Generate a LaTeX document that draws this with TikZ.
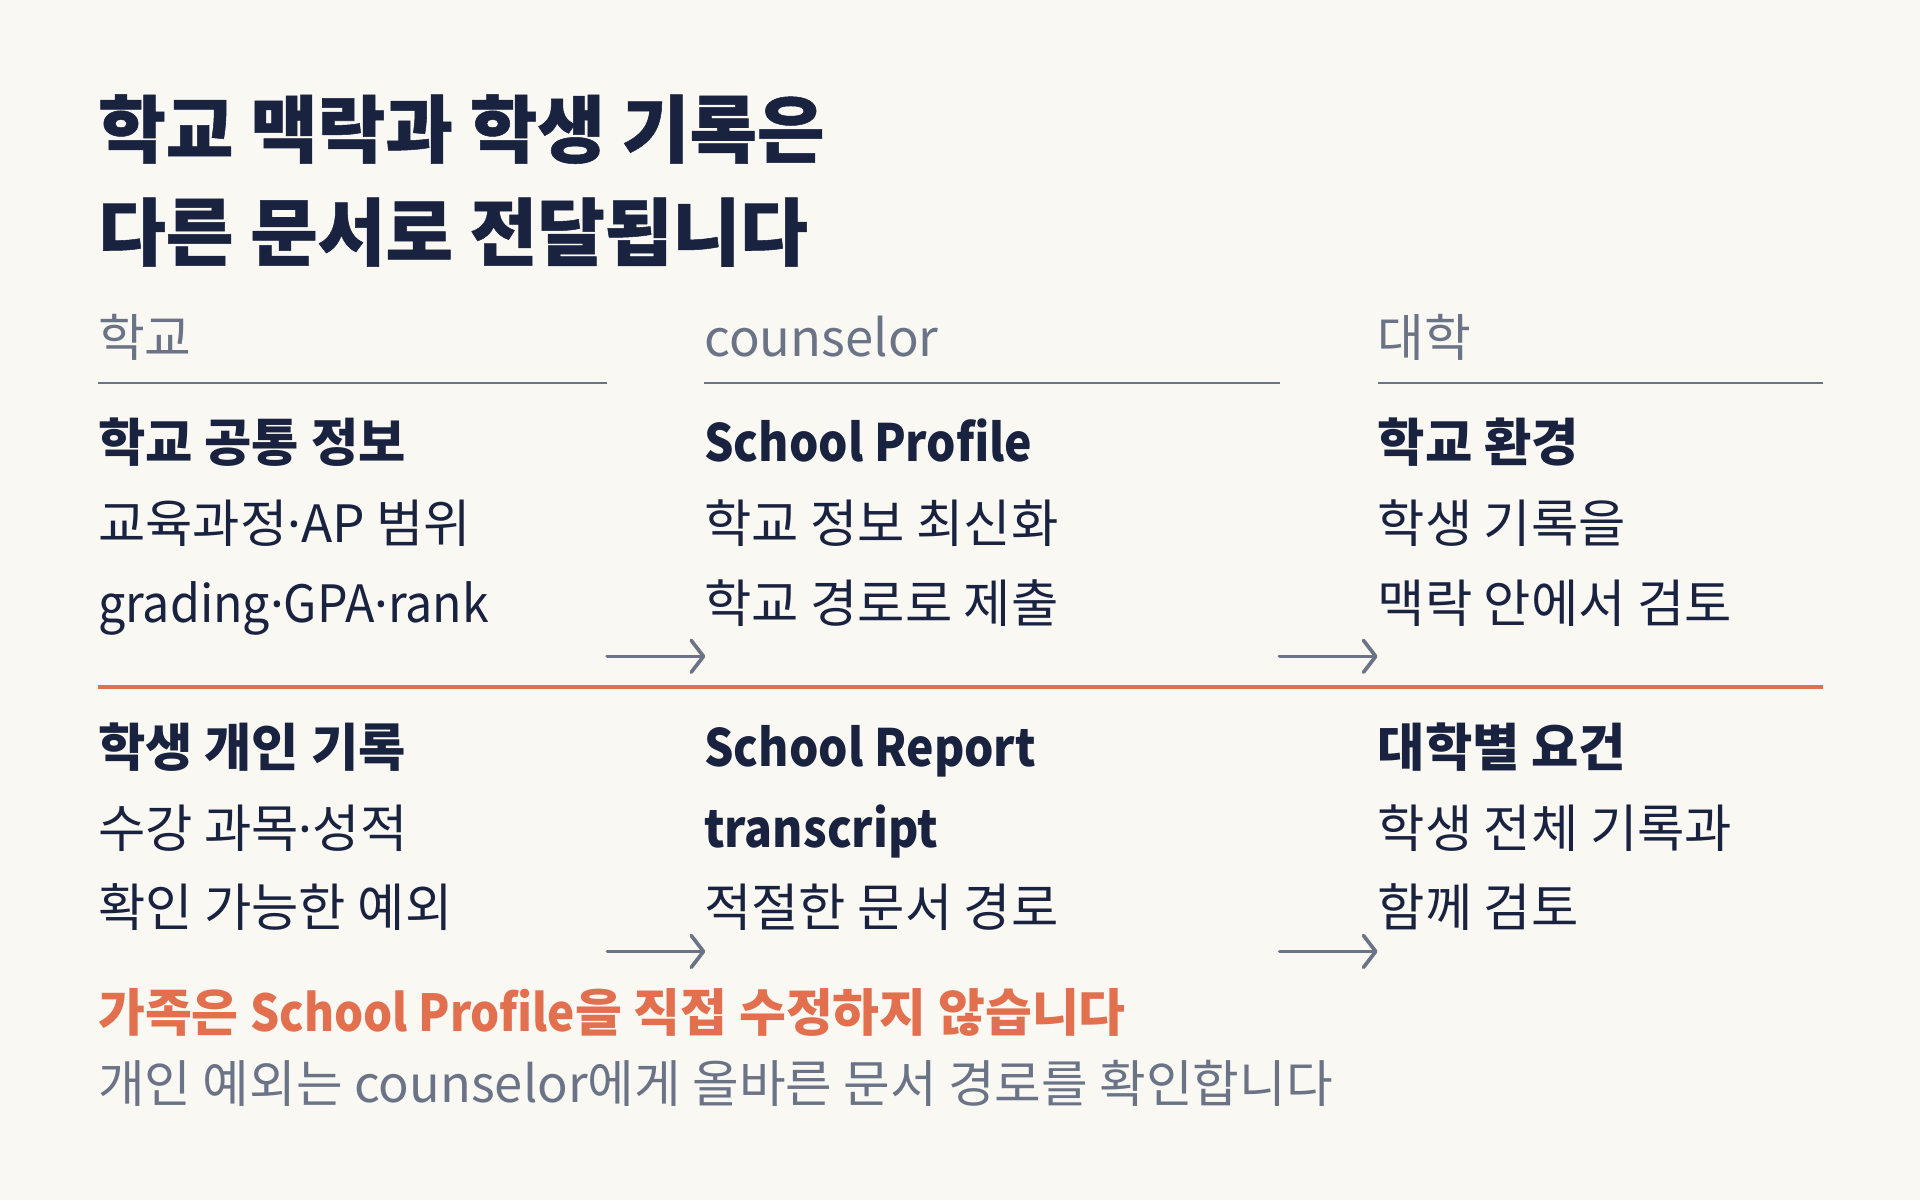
\documentclass[tikz,border=0pt]{standalone}
\usepackage{fontspec}
\setmainfont{Noto Sans CJK KR}
\newfontfamily\latb[FakeStretch=0.9]{Noto Sans CJK KR}
\newfontfamily\latr[FakeStretch=0.94]{Noto Sans CJK KR}
\newfontfamily\titlef[FakeBold=0.7]{Noto Sans CJK KR}
\newfontfamily\dotfont{Noto Sans}
\newcommand{\md}{{\dotfont\char"00B7}}
\newcommand{\lb}[1]{{\latb\bfseries #1}}
\newcommand{\lr}[1]{{\latr #1}}
\usetikzlibrary{arrows.meta}
\definecolor{bg}{HTML}{FAF8F3}
\definecolor{navy}{HTML}{19223F}
\definecolor{slate}{HTML}{6B7486}
\definecolor{accent}{HTML}{E2704F}
\begin{document}
\begin{tikzpicture}[x=1pt,y=-1pt,
  title/.style={anchor=base west,inner sep=0pt,text=navy,font=\fontsize{60}{70}\selectfont\titlef\bfseries},
  head/.style={anchor=base west,inner sep=0pt,text=slate,font=\fontsize{41.5}{48}\selectfont},
  lead/.style={anchor=base west,inner sep=0pt,text=navy,font=\fontsize{42}{48}\selectfont\bfseries},
  body/.style={anchor=base west,inner sep=0pt,text=navy,font=\fontsize{42}{48}\selectfont},
  rule/.style={draw=slate,line width=2pt},
  flow/.style={draw=slate,line width=3pt,line cap=round,-{Straight Barb[length=10pt,width=26pt,line width=3pt,round]}},
  note/.style={anchor=base west,inner sep=0pt}]
\fill[bg] (0,0) rectangle (1568,980);
\useasboundingbox (0,0) rectangle (1568,980);
% title
\node[title] (t1) at (80,128) {학교 맥락과 학생 기록은};
\node[title] (t2) at (80,212) {다른 문서로 전달됩니다};
% headers
\node[head] (h1) at (80,291) {학교};
\node[head] (h2) at (575,291) {counselor};
\node[head] (h3) at (1125,291) {대학};
\coordinate (r1a) at (80,313); \coordinate (r1b) at (496,313);
\coordinate (r2a) at (575,313); \coordinate (r2b) at (1045,313);
\coordinate (r3a) at (1125,313); \coordinate (r3b) at (1489,313);
\draw[rule] (r1a) -- (r1b);
\draw[rule] (r2a) -- (r2b);
\draw[rule] (r3a) -- (r3b);
% upper rows
\node[lead] (a1) at (80,377) {학교 공통 정보};
\node[body] (a2) at (80,443) {교육과정\md AP 범위};
\node[body] (a3) at (80,508) {\lr{grading}\md\lr{GPA}\md\lr{rank}};
\node[lead] (b1) at (575,377) {\lb{School Profile}};
\node[body] (b2) at (575,443) {학교 정보 최신화};
\node[body] (b3) at (575,508) {학교 경로로 제출};
\node[lead] (c1) at (1125,377) {학교 환경};
\node[body] (c2) at (1125,443) {학생 기록을};
\node[body] (c3) at (1125,508) {맥락 안에서 검토};
\coordinate (u1) at (496,536); \coordinate (u2) at (576,536);
\coordinate (u3) at (1045,536); \coordinate (u4) at (1125,536);
\draw[flow] (u1) -- (u2);
\draw[flow] (u3) -- (u4);
% divider
\coordinate (d1) at (80,561); \coordinate (d2) at (1489,561);
\draw[draw=accent,line width=3pt] (d1) -- (d2);
% lower rows
\node[lead] (a4) at (80,626) {학생 개인 기록};
\node[body] (a5) at (80,692) {수강 과목\md 성적};
\node[body] (a6) at (80,757) {확인 가능한 예외};
\node[lead] (b4) at (575,626) {\lb{School Report}};
\node[lead] (b5) at (575,692) {\lb{transcript}};
\node[body] (b6) at (575,757) {적절한 문서 경로};
\node[lead] (c4) at (1125,626) {대학별 요건};
\node[body] (c5) at (1125,692) {학생 전체 기록과};
\node[body] (c6) at (1125,757) {함께 검토};
\coordinate (l1) at (496,777); \coordinate (l2) at (576,777);
\coordinate (l3) at (1045,777); \coordinate (l4) at (1125,777);
\draw[flow] (l1) -- (l2);
\draw[flow] (l3) -- (l4);
% notes
\node[note,text=accent,font=\fontsize{41.6}{50}\selectfont\bfseries] (n1) at (80,842) {가족은 \lb{School Profile}을 직접 수정하지 않습니다};
\node[note,text=slate,font=\fontsize{41.4}{50}\selectfont] (n2) at (80,900) {개인 예외는 counselor에게 올바른 문서 경로를 확인합니다};
\end{tikzpicture}
\end{document}
